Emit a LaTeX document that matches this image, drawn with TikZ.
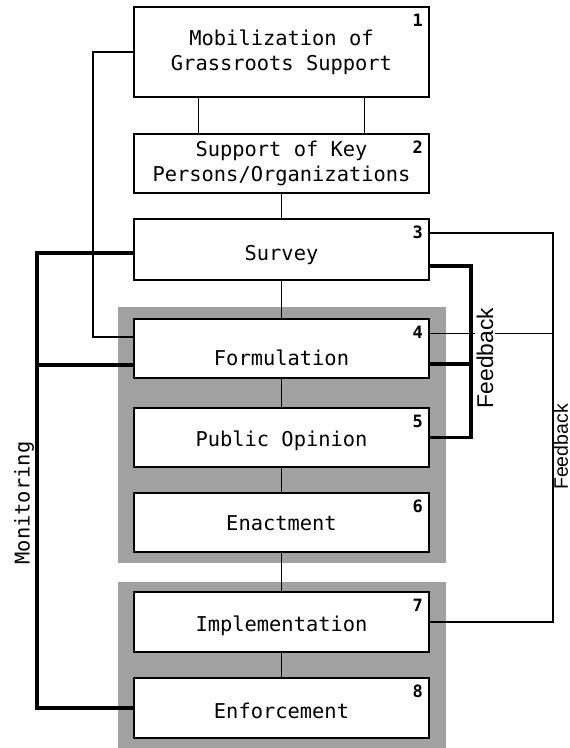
\documentclass[tikz,border=0pt]{standalone}
\usepackage{fontspec}
\setmonofont{DejaVu Sans Mono}
\newfontfamily\fbfont{Liberation Sans}
\usepackage{tikz}
\usetikzlibrary{positioning}

\newcommand{\stagefont}{\ttfamily\fontsize{20.4}{25}\selectfont}
\newcommand{\numfont}{\ttfamily\bfseries\fontsize{17}{17}\selectfont}
\newcommand{\down}[2]{\raisebox{-#1}[\height][\depth]{#2}}
\tikzset{
	stage/.style={draw, line width=2pt, fill=white, minimum width=295pt, minimum height=60pt, font=\stagefont, align=center},
	num/.style={font=\numfont, inner sep=0pt, anchor=north east, xshift=-7pt, yshift=-8pt},
	thinline/.style={line width=1.4pt},
	thickline/.style={line width=3.2pt},
	fb/.style={font=\fbfont\fontsize{22.8}{22.8}\selectfont, rotate=90, inner sep=1.5pt}
}

\begin{document}
\begin{tikzpicture}[x=1pt, y=-1pt]
				\useasboundingbox (0,0) rectangle (570,748);
				\fill[black!37] (118,307) rectangle (446,563);
				\fill[black!37] (118,582) rectangle (446,748);
				
				\node[stage, minimum height=90pt, label={[num]north east:1}] (mobil) at (281.5,52) {Mobilization of\\Grassroots Support};
				\node[stage, minimum height=59pt, label={[num]north east:2}] (support) at (281.5,163.5) {Support of Key\\Persons/Organizations};
				\node[stage, minimum height=61pt, label={[num]north east:3}] (survey) at (281.5,249.5) {\down{6pt}{Survey}};
				\node[stage, minimum height=59pt, label={[num]north east:4}] (formul) at (281.5,348.5) {\down{9pt}{Formulation}};
				\node[stage, minimum height=59pt, label={[num]north east:5}] (opinion) at (281.5,437.5) {\down{3pt}{Public Opinion}};
				\node[stage, minimum height=59pt, label={[num]north east:6}] (enact) at (281.5,522.5) {\down{1pt}{Enactment}};
				\node[stage, label={[num]north east:7}] (implem) at (281.5,622) {\down{4pt}{Implementation}};
				\node[stage, label={[num]north east:8}] (enforce) at (281.5,708) {\down{3pt}{Enforcement}};
				
				\coordinate (monbot) at (37,708);
				\coordinate (fbin) at (471,437.5);
				\coordinate (fbout) at (553,622);
				
				\draw[thinline] ([xshift=-83pt]mobil.south) -- ([xshift=-83pt]support.north);
				\draw[thinline] ([xshift=83pt]mobil.south) -- ([xshift=83pt]support.north);
				\draw[thinline] (support) -- (survey);
				\draw[thinline] (survey) -- (formul);
				\draw[thinline] (formul) -- (opinion);
				\draw[thinline] (opinion) -- (enact);
				\draw[thinline] (enact) -- (implem);
				\draw[thinline] (implem) -- (enforce);
				\draw[thinline] (mobil.west) -- ++(-40,0) |- ([yshift=11.5pt]formul.west);
				
				\draw[thickline] ([yshift=-3.5pt]survey.west) -| (monbot) -- (enforce.west);
				\draw[thickline] ([yshift=-16.5pt]formul.west) coordinate (f4) -- (f4 -| monbot);
				\draw[thickline] ([yshift=-16.5pt]survey.east) -| (fbin) -- (opinion.east);
				\draw[thickline] ([yshift=-15.5pt]formul.east) coordinate (f5) -- (f5 -| fbin);
				\draw[thinline] ([yshift=16.5pt]survey.east) -| (fbout) -- (implem.east);
				\draw[thinline] ([yshift=15pt]formul.east) coordinate (f6) -- (f6 -| fbout);
				
				\node[fb, fill=white] (fbinner) at (485,358) {Feedback};
				\node[fb, font=\fbfont\fontsize{19.5}{19.5}\selectfont, inner sep=0pt] (fbouter) at (560.8,447) {Feedback};
				\node[font=\stagefont, rotate=90] (monit) at (24,503) {Monitoring};
			\end{tikzpicture}
\end{document}
